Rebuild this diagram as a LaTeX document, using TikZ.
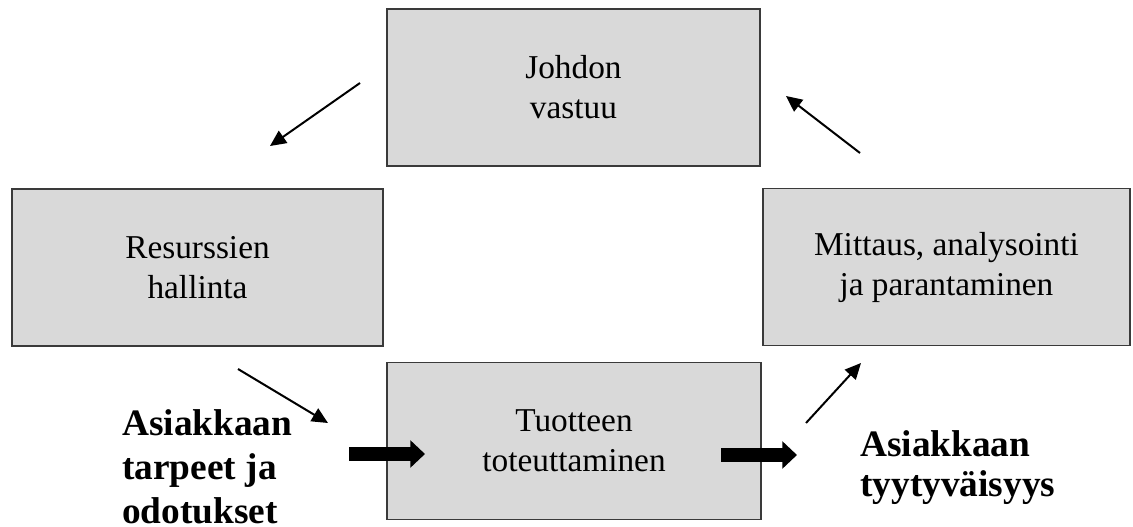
\documentclass[tikz,border=0pt]{standalone}
\usepackage{fontspec}
\setmainfont{Liberation Serif}
\usetikzlibrary{arrows.meta}
\definecolor{boxgray}{HTML}{D9D9D9}
\definecolor{boxline}{HTML}{3A3A3A}
\begin{document}
\begin{tikzpicture}[x=0.75pt,y=-0.75pt,
  stage/.style={draw=boxline, line width=1.2pt, fill=boxgray,
    minimum height=117.75pt, align=center, inner sep=0pt,
    font=\fontsize{25}{30}\selectfont},
  cue/.style={align=left, inner sep=0pt, font=\fontsize{28}{33}\selectfont\bfseries},
  flow/.style={line width=1.5pt, -{Triangle[length=12pt,width=11pt]}},
  bigflow/.style={line width=10.5pt, -{Triangle[length=11pt,width=20pt]}}]
\useasboundingbox (0,0) rectangle (1133,527);
\fill[white] (0,0) rectangle (1133,527);

% the four process stages
\node[stage, minimum width=279.75pt] (lead) at (573.5,87.5) {Johdon\\vastuu};
\node[stage, minimum width=278.25pt] (res) at (197.5,267.5) {Resurssien\\hallinta};
\node[stage, minimum width=275.25pt] (meas) at (946.5,267) {Mittaus, analysointi\\ja parantaminen};
\node[stage, minimum width=280.5pt] (prod) at (574,441) {Tuotteen\\toteuttaminen};

% customer input and output
\node[cue, anchor=west] (need) at (122,466.5) {Asiakkaan\\tarpeet ja\\odotukset};
\node[cue, anchor=west, font=\fontsize{28}{30}\selectfont\bfseries] (sat) at (860,467.5) {Asiakkaan\\tyytyväisyys};

% end points of the cycle arrows
\coordinate (c1s) at (360,83);  \coordinate (c1e) at (270,146);
\coordinate (c2s) at (238,369); \coordinate (c2e) at (328,423);
\coordinate (c3s) at (806,423); \coordinate (c3e) at (861,363);
\coordinate (c4s) at (860,153); \coordinate (c4e) at (786,96);
\draw[flow] (c1s) -- (c1e);
\draw[flow] (c2s) -- (c2e);
\draw[flow] (c3s) -- (c3e);
\draw[flow] (c4s) -- (c4e);

% main flow through product realisation
\coordinate (f1s) at (349,454); \coordinate (f1e) at (425,454);
\coordinate (f2s) at (721,455); \coordinate (f2e) at (797,455);
\draw[bigflow] (f1s) -- (f1e);
\draw[bigflow] (f2s) -- (f2e);
\end{tikzpicture}
\end{document}
